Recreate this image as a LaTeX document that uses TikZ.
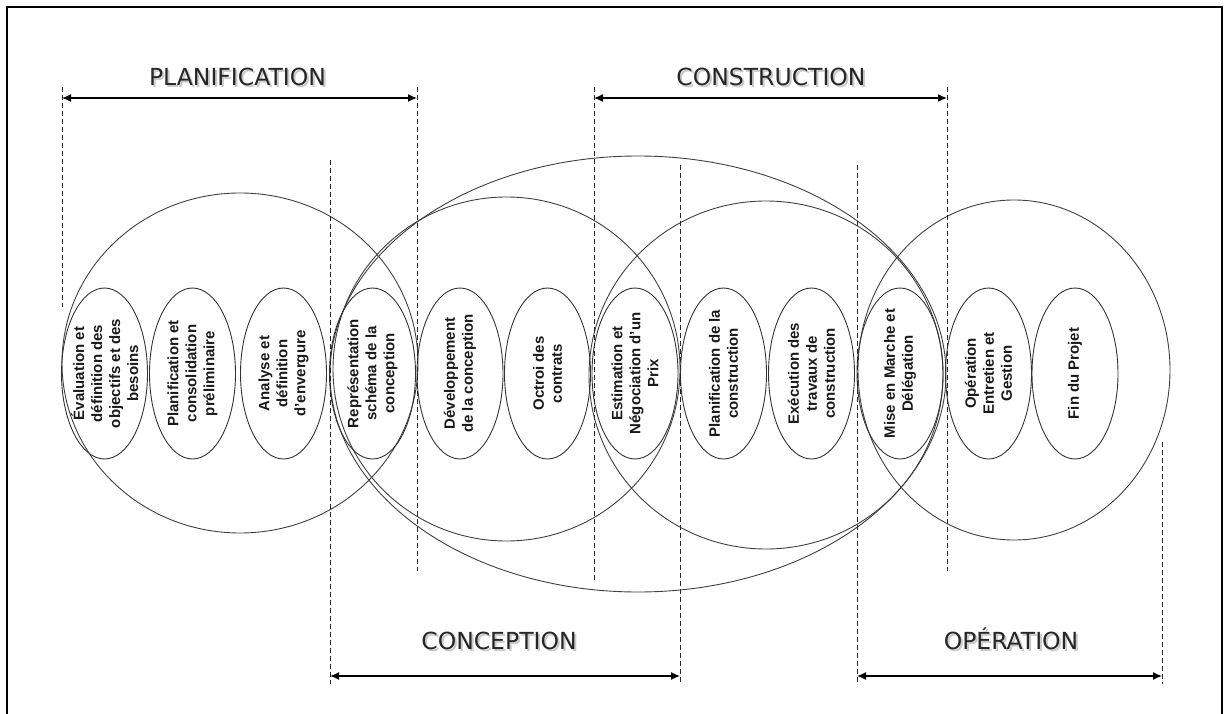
\documentclass[tikz,border=0pt]{standalone}
\usepackage{fontspec}
\setmainfont{Liberation Sans}
\newfontfamily\titlefont{DejaVu Sans}
\usetikzlibrary{shapes.geometric,arrows.meta}

\tikzset{
  stage/.style={ellipse, draw=black!80, line width=0.9pt, minimum width=171pt,
    minimum height=86pt, inner sep=-30pt, rotate=90, align=center,
    font=\bfseries\fontsize{15}{18}\selectfont, text=black!90},
  phase/.style={ellipse, draw=black!75, line width=0.9pt, inner sep=0pt},
  guide/.style={draw=black!85, line width=0.8pt, dash pattern=on 5pt off 3pt},
  span/.style={draw=black, line width=1.4pt,
    {Latex[length=9pt,width=8pt]}-{Latex[length=9pt,width=8pt]}},
  title/.style={font=\titlefont\fontsize{23.5}{28}\selectfont, anchor=base, text=black!85},
  shade/.style={title, text=black!35, opacity=0.6},
}

\begin{document}
\begin{tikzpicture}[x=1pt,y=-1pt]
\useasboundingbox (0,0) rectangle (1229,714);

% frame, open at the bottom
\draw[line width=2.5pt] (7,714) -- (7,7) -- (1222,7) -- (1222,714);

% large phase envelopes
\node[phase, minimum width=356pt, minimum height=340pt] (pPlan)  at (240,363)   {};
\node[phase, minimum width=347pt, minimum height=344pt] (pConc)  at (506.5,369) {};
\node[phase, minimum width=616pt, minimum height=436pt] (pWide)  at (638,374)   {};
\node[phase, minimum width=354pt, minimum height=348pt] (pCons)  at (766,375)   {};
\node[phase, minimum width=312pt, minimum height=340pt] (pOper)  at (1014,370)  {};

% project stages
\node[stage] (s1)  at (104.5,373.5) {Évaluation et\\définition des\\objectifs et des\\besoins};
\node[stage] (s2)  at (192.5,373.5) {Planification et\\consolidation\\préliminaire};
\node[stage] (s3)  at (283.5,373.5) {Analyse et\\définition\\d'envergure};
\node[stage] (s4)  at (372.5,373.5) {Représentation\\schéma de la\\conception};
\node[stage] (s5)  at (460,373.5)   {Développement\\de la conception};
\node[stage] (s6)  at (547.5,373.5) {Octroi des\\contrats};
\node[stage] (s7)  at (635,373.5)   {Estimation et\\Négociation d'un\\Prix};
\node[stage] (s8)  at (723.5,373.5) {Planification de la\\construction};
\node[stage] (s9)  at (811.5,373.5) {Exécution des\\travaux de\\construction};
\node[stage] (s10) at (900,373.5)   {Mise en Marche et\\Délégation};
\node[stage] (s11) at (988.5,373.5) {Opération\\Entretien et\\Gestion};
\node[stage] (s12) at (1075,373.5)  {Fin du Projet};

% guide line end points
\coordinate (g1a) at (62,87);    \coordinate (g1b) at (62,307);
\coordinate (g2a) at (330,160);  \coordinate (g2b) at (330,684);
\coordinate (g3a) at (417,87);   \coordinate (g3b) at (417,571);
\coordinate (g4a) at (594,87);   \coordinate (g4b) at (594,583);
\coordinate (g5a) at (680,165);  \coordinate (g5b) at (680,684);
\coordinate (g6a) at (857,165);  \coordinate (g6b) at (857,684);
\coordinate (g7a) at (947,87);   \coordinate (g7b) at (947,571);
\coordinate (g8a) at (1162,442); \coordinate (g8b) at (1162,684);

\foreach \g in {1,...,8} \draw[guide] (g\g a) -- (g\g b);

% span arrows
\coordinate (a1l) at (62,98);   \coordinate (a1r) at (417,98);
\coordinate (a2l) at (594,98);  \coordinate (a2r) at (947,98);
\coordinate (a3l) at (330,676); \coordinate (a3r) at (680,676);
\coordinate (a4l) at (857,676); \coordinate (a4r) at (1162,676);
\draw[span] (a1l) -- (a1r);
\draw[span] (a2l) -- (a2r);
\draw[span] (a3l) -- (a3r);
\draw[span] (a4l) -- (a4r);

% phase titles with a soft drop shadow
\node[shade] (t1s) at (239.5,87.5) {PLANIFICATION};
\node[title] (t1)  at (237.5,85.5) {PLANIFICATION};
\node[shade] (t2s) at (773,87.5)   {CONSTRUCTION};
\node[title] (t2)  at (771,85.5)   {CONSTRUCTION};
\node[shade] (t3s) at (501,651)    {CONCEPTION};
\node[title] (t3)  at (499,649)    {CONCEPTION};
\node[shade] (t4s) at (1013,651)   {OPÉRATION};
\node[title] (t4)  at (1011,649)   {OPÉRATION};
\end{tikzpicture}
\end{document}
